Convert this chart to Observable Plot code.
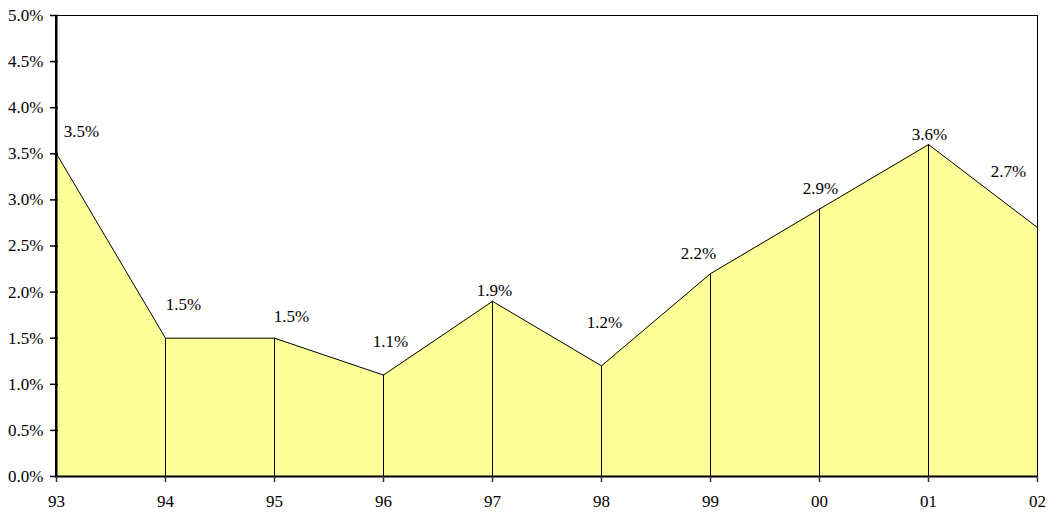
<!DOCTYPE html>
<html>
<head>
<meta charset="utf-8">
<script src="https://cdn.jsdelivr.net/npm/d3@7"></script>
<script src="https://cdn.jsdelivr.net/npm/@observablehq/plot@0.6"></script>
<style>
  html, body { margin: 0; padding: 0; background: #fff; }
  #chart svg { display: block; }
  #chart svg, #chart svg text, #chart svg g { font-family: "Liberation Serif", "Times New Roman", serif !important; }
</style>
</head>
<body>
<div id="chart"></div>
<script>
// Data
const years = ["93", "94", "95", "96", "97", "98", "99", "00", "01", "02"];
const values = [0.035, 0.015, 0.015, 0.011, 0.019, 0.012, 0.022, 0.029, 0.036, 0.027];
const yTicks = [0, 0.005, 0.01, 0.015, 0.02, 0.025, 0.03, 0.035, 0.04, 0.045, 0.05];
// label nudges (presentation only)
const labelDx = [25, 18, 17, 7, 2, 3, -12, 1, 1, -29];
const labelDy = [-22, -34, -22, -34, -11, -43, -20, -21, -10, -56];

const data = years.map((yr, i) => ({year: yr, value: values[i]}));
const fmt = d3.format(".1%");
const serif = "Liberation Serif";
const FS = 17;

const labelMarks = data.map((d, i) =>
  Plot.text([d], {
    x: "year", y: "value", text: r => fmt(r.value),
    dx: labelDx[i], dy: labelDy[i], fill: "#000", fontSize: FS, fontFamily: serif
  })
);

const chart = Plot.plot({
  width: 1049,
  height: 514,
  marginLeft: 55,
  marginRight: 12,
  marginTop: 15,
  marginBottom: 38,
  style: {fontFamily: serif, fontSize: FS + "px", color: "#000", background: "#fff"},
  x: {type: "point", domain: years, padding: 0},
  y: {domain: [0, 0.05]},
  marks: [
    Plot.areaY(data, {x: "year", y: "value", fill: "#FFFF99"}),
    Plot.ruleX(data, {x: "year", y1: 0, y2: "value", stroke: "#000", strokeWidth: 1}),
    Plot.lineY(data, {x: "year", y: "value", stroke: "#000", strokeWidth: 1}),
    Plot.frame({stroke: "#000", strokeWidth: 1}),
    Plot.ruleY([0], {stroke: "#000", strokeWidth: 2}),
    Plot.ruleX([years[0]], {stroke: "#000", strokeWidth: 2}),
    Plot.axisY({ticks: yTicks, tickSize: 8, dx: 3, text: null, stroke: "#000", strokeWidth: 1.5, label: null}),
    Plot.axisY({ticks: yTicks, tickFormat: fmt, tickSize: 0, tickPadding: 12, fill: "#000", fontSize: FS, fontFamily: serif, label: null}),
    Plot.axisX({tickSize: 6, tickPadding: 12, stroke: "#333", strokeWidth: 1.5, fill: "#000", fontSize: FS, fontFamily: serif, label: null}),
    ...labelMarks
  ]
});
document.getElementById("chart").appendChild(chart);
</script>
</body>
</html>
